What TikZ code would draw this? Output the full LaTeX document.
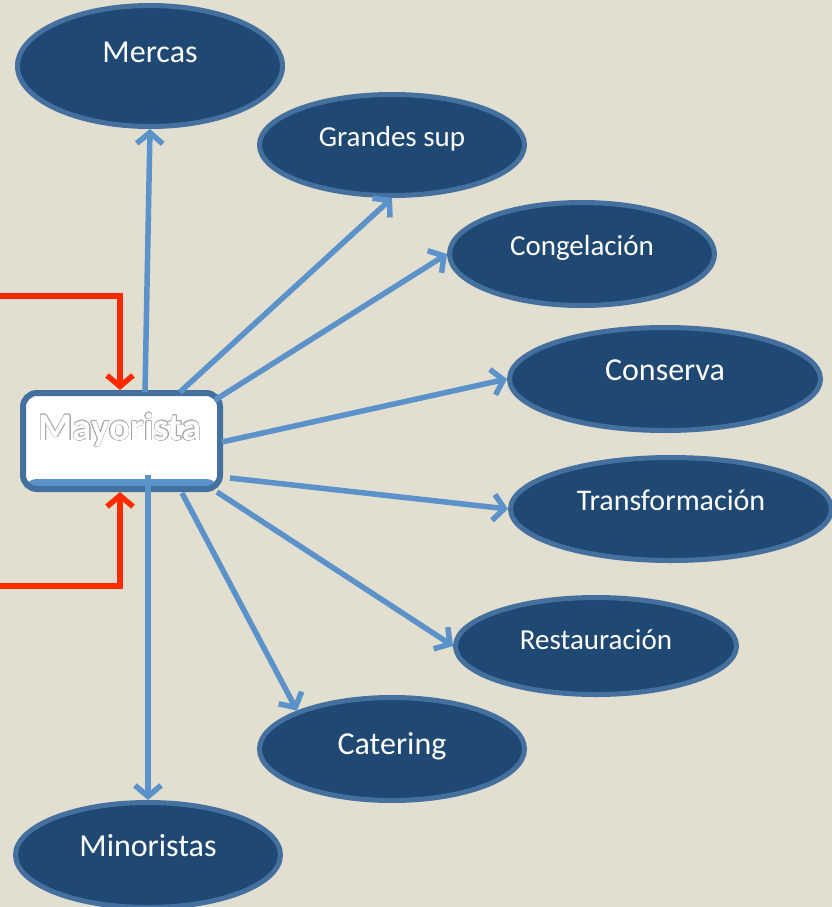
\documentclass[tikz,border=0pt]{standalone}
\usepackage{fontspec}
\setmainfont{Carlito}
\usepackage{contour}
\usetikzlibrary{shapes.geometric,arrows.meta}

\definecolor{fondo}{HTML}{E2DFD0}
\definecolor{oscuro}{HTML}{1F4873}
\definecolor{borde}{HTML}{44709F}
\definecolor{flecha}{HTML}{5B92CA}
\definecolor{rojo}{HTML}{FF2A00}

\tikzset{
  oval/.style={ellipse,draw=borde,fill=oscuro,line width=5pt,inner sep=0pt,
    text=white,text depth=18pt,font=\fontsize{29}{30}\selectfont},
  big/.style={font=\fontsize{32}{34}\selectfont},
  salida/.style={draw=flecha,line width=5.5pt,-{Straight Barb[length=11pt,width=26pt]}},
  entrada/.style={draw=rojo,line width=5.5pt,-{Straight Barb[length=11pt,width=26pt]}}
}

\contourlength{0.5pt}
\contournumber{16}

\begin{document}
\begin{tikzpicture}[x=1pt,y=-1pt]
\useasboundingbox[fill=fondo] (0,0) rectangle (832,907);

%Mayorista
\node[draw=borde,fill=white,rounded corners=14pt,line width=6pt,
minimum width=197pt,minimum height=96pt,inner sep=0pt,
path picture={\fill[flecha] ([yshift=-2pt]path picture bounding box.south west)
  rectangle ([yshift=10pt]path picture bounding box.south east);}
] (mayo) at (121.5,441){};
\node[font=\bfseries\fontsize{39}{40}\selectfont,text=white] (mayotxt) at (120,430)
{\contour{black!35}{Mayorista}};

%Mercas
\node[oval,big,minimum width=265pt,minimum height=121pt,text depth=28pt
] (mercas) at (150,66){Mercas};

%Grandes sup
\node[oval,minimum width=265pt,minimum height=101pt
] (grandes) at (392,145){Grandes sup};

%Congelacion
\node[oval,minimum width=265pt,minimum height=103pt
] (congel) at (582,254){Congelación};

%Conserva
\node[oval,big,minimum width=311pt,minimum height=103pt
] (conserva) at (665,379){Conserva};

%Transformacion
\node[oval,font=\fontsize{30}{31}\selectfont,minimum width=321pt,minimum height=103pt
] (transf) at (671,509){Transformación};

%Restauracion
\node[oval,minimum width=281pt,minimum height=97pt,text depth=12pt
] (restaur) at (596,646){Restauración};

%Catering
\node[oval,big,minimum width=265pt,minimum height=103pt,text depth=12pt
] (catering) at (392,749){Catering};

%Minoristas
\node[oval,big,minimum width=265pt,minimum height=105pt,text depth=20pt
] (minor) at (148,855){Minoristas};

%Start points
\coordinate (s1) at (145,392);
\coordinate (s2) at (180,392);
\coordinate (s3) at (215,400);
\coordinate (s4) at (222,442);
\coordinate (s5) at (230,478);
\coordinate (s6) at (217,492);
\coordinate (s7) at (182,493);
\coordinate (s8) at (148,475);

\draw[salida] (s1) -- (mercas.south);
\draw[salida] (s2) -- (grandes.south);
\draw[salida] (s3) -- (congel.west);
\draw[salida] (s4) -- (conserva.west);
\draw[salida] (s5) -- (transf.west);
\draw[salida] (s6) -- (restaur.west);
\draw[salida] (s7) -- (catering.158);
\draw[salida] (s8) -- (minor.north);

%Inputs
\coordinate (in1) at (0,296);
\coordinate (in2) at (0,586);

\draw[entrada] (in1) -| ([xshift=-1.5pt]mayo.north);
\draw[entrada] (in2) -| ([xshift=-1.5pt]mayo.south);

\end{tikzpicture}
\end{document}
